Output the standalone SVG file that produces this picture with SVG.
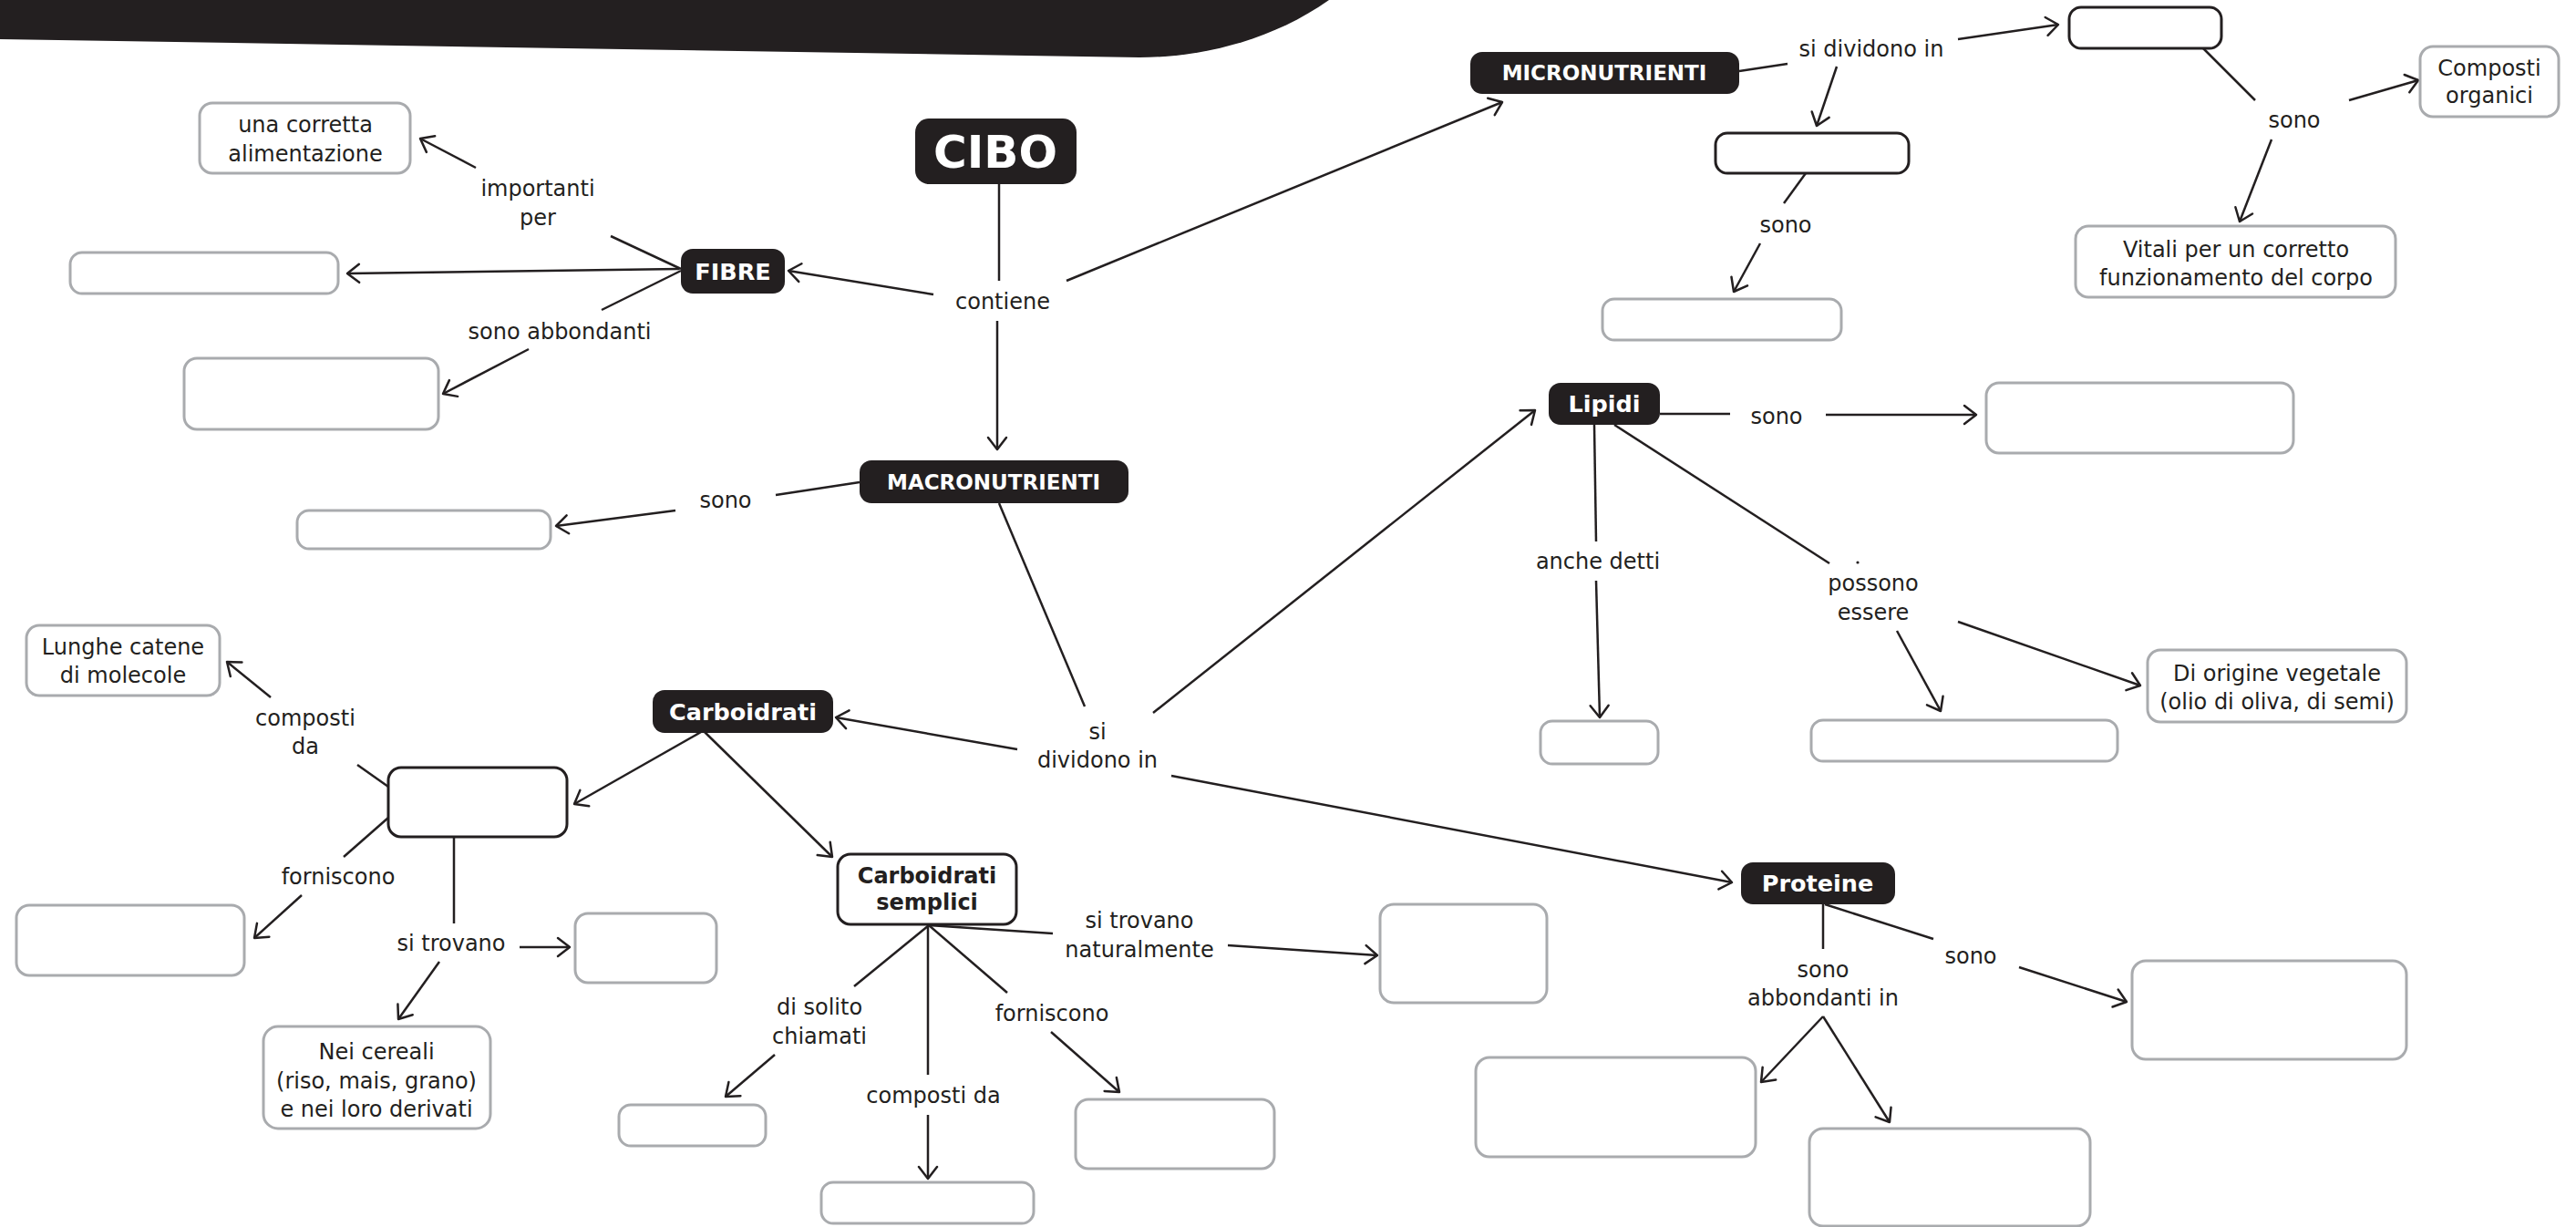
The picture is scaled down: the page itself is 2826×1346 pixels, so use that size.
<svg xmlns="http://www.w3.org/2000/svg" width="2826" height="1346" viewBox="0 0 2826 1346">
<style>
.blk{fill:#231f20}
.gbox{fill:#fff;stroke:#a9abae;stroke-width:3}
.dbox{fill:#fff;stroke:#231f20;stroke-width:3}
.lbl{font-family:"DejaVu Sans","Open Sans",sans-serif;font-size:24px;fill:#231f20;text-anchor:middle}
.ntx{font-family:"DejaVu Sans","Open Sans",sans-serif;font-weight:bold;font-size:25.5px;fill:#fff;text-anchor:middle}
.caps{font-size:23px}
.dtx{font-family:"DejaVu Sans","Open Sans",sans-serif;font-weight:bold;font-size:24px;fill:#231f20;text-anchor:middle}
#connectors path{stroke:#231f20;stroke-width:2.5;fill:none}
#connectors .a{marker-end:url(#ah)}
</style>
<defs>
<marker id="ah" markerUnits="userSpaceOnUse" markerWidth="30" markerHeight="30" viewBox="-20 -15 25 30" refX="0" refY="0" orient="auto">
<path d="M-13,-10 L0,0 L-13,10" fill="none" stroke="#231f20" stroke-width="2.5" stroke-linecap="round" stroke-linejoin="round"/>
</marker>
</defs>
<rect width="2826" height="1346" fill="#fff"/>
<path class="blk" d="M0,0 H1458 C1390,48 1310,63 1250,63 L0,43 Z"/>

<g id="connectors">
<path d="M1096,202 L1096,308"/>
<path d="M670,259 L747,295"/>
<path d="M747,297 L660,340"/>
<path d="M943,529 L851,543"/>
<path d="M1096,552 L1190,775"/>
<path d="M1908,78 L1961,70"/>
<path d="M1981,190 L1957,223"/>
<path d="M2417,53 L2474,110"/>
<path d="M1821,454 L1898,454"/>
<path d="M1749,466 L1751,594"/>
<path d="M1771,466 L2007,618"/>
<path d="M426,863 L392,839"/>
<path d="M426,897 L377,940"/>
<path d="M498,918 L498,1013"/>
<path d="M1019,1015 L1155,1024"/>
<path d="M1019,1015 L937,1082"/>
<path d="M1018,1015 L1018,1179"/>
<path d="M1019,1015 L1105,1089"/>
<path d="M2000,992 L2000,1041"/>
<path d="M2002,992 L2121,1030"/>
<path class="a" d="M522,184 L461,152"/>
<path class="a" d="M745,295 L381,300"/>
<path class="a" d="M1024,323 L865,297"/>
<path class="a" d="M580,383 L486,432"/>
<path class="a" d="M1094,352 L1094,493"/>
<path class="a" d="M1170,308 L1648,112"/>
<path class="a" d="M741,560 L610,577"/>
<path class="a" d="M2148,43 L2258,27"/>
<path class="a" d="M2015,73 L1993,138"/>
<path class="a" d="M1931,267 L1902,320"/>
<path class="a" d="M2577,110 L2653,88"/>
<path class="a" d="M2492,153 L2457,243"/>
<path class="a" d="M1265,782 L1684,450"/>
<path class="a" d="M2003,455 L2168,455"/>
<path class="a" d="M1751,637 L1755,787"/>
<path class="a" d="M2081,692 L2129,780"/>
<path class="a" d="M2148,682 L2348,752"/>
<path class="a" d="M1116,822 L917,787"/>
<path class="a" d="M1285,851 L1900,968"/>
<path class="a" d="M769,803 L630,882"/>
<path class="a" d="M773,803 L913,940"/>
<path class="a" d="M297,765 L249,726"/>
<path class="a" d="M331,982 L279,1029"/>
<path class="a" d="M570,1039 L625,1039"/>
<path class="a" d="M482,1055 L437,1118"/>
<path class="a" d="M1347,1037 L1511,1048"/>
<path class="a" d="M850,1157 L796,1203"/>
<path class="a" d="M1018,1223 L1018,1293"/>
<path class="a" d="M1153,1132 L1228,1198"/>
<path class="a" d="M2000,1115 L1932,1187"/>
<path class="a" d="M2000,1115 L2073,1231"/>
<path class="a" d="M2215,1061 L2333,1099"/>
<circle cx="2038" cy="617" r="1.6" fill="#231f20"/>
</g>

<g id="labels">
<text class="lbl" x="590" y="215">importanti<tspan x="590" dy="32">per</tspan></text>
<text class="lbl" x="614" y="372">sono abbondanti</text>
<text class="lbl" x="1100" y="339">contiene</text>
<text class="lbl" x="796" y="557">sono</text>
<text class="lbl" x="2053" y="62">si dividono in</text>
<text class="lbl" x="1959" y="255">sono</text>
<text class="lbl" x="2517" y="140">sono</text>
<text class="lbl" x="1949" y="465">sono</text>
<text class="lbl" x="1753" y="624">anche detti</text>
<text class="lbl" x="2055" y="648">possono<tspan x="2055" dy="32">essere</tspan></text>
<text class="lbl" x="1204" y="811">si<tspan x="1204" dy="31">dividono in</tspan></text>
<text class="lbl" x="335" y="796">composti<tspan x="335" dy="31">da</tspan></text>
<text class="lbl" x="371" y="970">forniscono</text>
<text class="lbl" x="495" y="1043">si trovano</text>
<text class="lbl" x="1250" y="1018">si trovano<tspan x="1250" dy="32">naturalmente</tspan></text>
<text class="lbl" x="899" y="1113">di solito<tspan x="899" dy="32">chiamati</tspan></text>
<text class="lbl" x="1024" y="1210">composti da</text>
<text class="lbl" x="1154" y="1120">forniscono</text>
<text class="lbl" x="2000" y="1072">sono<tspan x="2000" dy="31">abbondanti in</tspan></text>
<text class="lbl" x="2162" y="1057">sono</text>
</g>

<g id="n-cibo"><rect class="blk" x="1004" y="130" width="177" height="72" rx="15"/><text class="ntx" x="1092" y="184" style="font-size:50px">CIBO</text></g>
<g id="n-fibre"><rect class="blk" x="747" y="273" width="114" height="49" rx="13"/><text class="ntx" x="804" y="307">FIBRE</text></g>
<g id="n-macro"><rect class="blk" x="943" y="505" width="295" height="47" rx="13"/><text class="ntx caps" x="1090" y="537">MACRONUTRIENTI</text></g>
<g id="n-micro"><rect class="blk" x="1613" y="57" width="295" height="46" rx="13"/><text class="ntx caps" x="1760" y="88">MICRONUTRIENTI</text></g>
<g id="n-lipidi"><rect class="blk" x="1699" y="420" width="122" height="46" rx="13"/><text class="ntx" x="1760" y="452">Lipidi</text></g>
<g id="n-carbo"><rect class="blk" x="716" y="757" width="198" height="47" rx="13"/><text class="ntx" x="815" y="790">Carboidrati</text></g>
<g id="n-proteine"><rect class="blk" x="1910" y="946" width="169" height="46" rx="13"/><text class="ntx" x="1994" y="978">Proteine</text></g>
<g id="n-csemplici"><rect class="dbox" x="919" y="937" width="196" height="77" rx="14"/><text class="dtx" x="1017" y="969">Carboidrati<tspan x="1017" dy="29">semplici</tspan></text></g>

<g id="n-alimentazione"><rect class="gbox" x="219" y="113" width="231" height="77" rx="14"/><text class="lbl" x="335" y="145">una corretta<tspan x="335" dy="32">alimentazione</tspan></text></g>
<g id="n-fibre-e1"><rect class="gbox" x="77" y="277" width="294" height="45" rx="13"/></g>
<g id="n-fibre-e2"><rect class="gbox" x="202" y="393" width="279" height="78" rx="14"/></g>
<g id="n-macro-e1"><rect class="gbox" x="326" y="560" width="278" height="42" rx="13"/></g>
<g id="n-micro-d1"><rect class="dbox" x="2270" y="8" width="167" height="45" rx="13"/></g>
<g id="n-micro-d2"><rect class="dbox" x="1882" y="146" width="212" height="44" rx="13"/></g>
<g id="n-micro-e1"><rect class="gbox" x="1758" y="328" width="262" height="45" rx="13"/></g>
<g id="n-composti"><rect class="gbox" x="2655" y="51" width="152" height="77" rx="14"/><text class="lbl" x="2731" y="83">Composti<tspan x="2731" dy="30">organici</tspan></text></g>
<g id="n-vitali"><rect class="gbox" x="2277" y="248" width="351" height="78" rx="14"/><text class="lbl" x="2453" y="282">Vitali per un corretto<tspan x="2453" dy="31">funzionamento del corpo</tspan></text></g>
<g id="n-lipidi-e1"><rect class="gbox" x="2179" y="420" width="337" height="77" rx="14"/></g>
<g id="n-lipidi-e2"><rect class="gbox" x="1690" y="791" width="129" height="47" rx="13"/></g>
<g id="n-lipidi-e3"><rect class="gbox" x="1987" y="790" width="336" height="45" rx="13"/></g>
<g id="n-vegetale"><rect class="gbox" x="2356" y="713" width="284" height="79" rx="14"/><text class="lbl" x="2498" y="747">Di origine vegetale<tspan x="2498" dy="31">(olio di oliva, di semi)</tspan></text></g>
<g id="n-lunghe"><rect class="gbox" x="29" y="686" width="212" height="77" rx="14"/><text class="lbl" x="135" y="718">Lunghe catene<tspan x="135" dy="31">di molecole</tspan></text></g>
<g id="n-carbo-d1"><rect class="dbox" x="426" y="842" width="196" height="76" rx="14"/></g>
<g id="n-carbo-e1"><rect class="gbox" x="18" y="993" width="250" height="77" rx="14"/></g>
<g id="n-carbo-e2"><rect class="gbox" x="631" y="1002" width="155" height="76" rx="14"/></g>
<g id="n-cereali"><rect class="gbox" x="289" y="1126" width="249" height="112" rx="16"/><text class="lbl" x="413" y="1162">Nei cereali<tspan x="413" dy="31.5">(riso, mais, grano)</tspan><tspan x="413" dy="31.5">e nei loro derivati</tspan></text></g>
<g id="n-cs-e1"><rect class="gbox" x="679" y="1212" width="161" height="45" rx="13"/></g>
<g id="n-cs-e2"><rect class="gbox" x="901" y="1297" width="233" height="45" rx="13"/></g>
<g id="n-cs-e3"><rect class="gbox" x="1180" y="1206" width="218" height="76" rx="14"/></g>
<g id="n-cs-e4"><rect class="gbox" x="1514" y="992" width="183" height="108" rx="15"/></g>
<g id="n-prot-e1"><rect class="gbox" x="2339" y="1054" width="301" height="108" rx="15"/></g>
<g id="n-prot-e2"><rect class="gbox" x="1619" y="1160" width="307" height="109" rx="15"/></g>
<g id="n-prot-e3"><rect class="gbox" x="1985" y="1238" width="308" height="107" rx="15"/></g>
</svg>
